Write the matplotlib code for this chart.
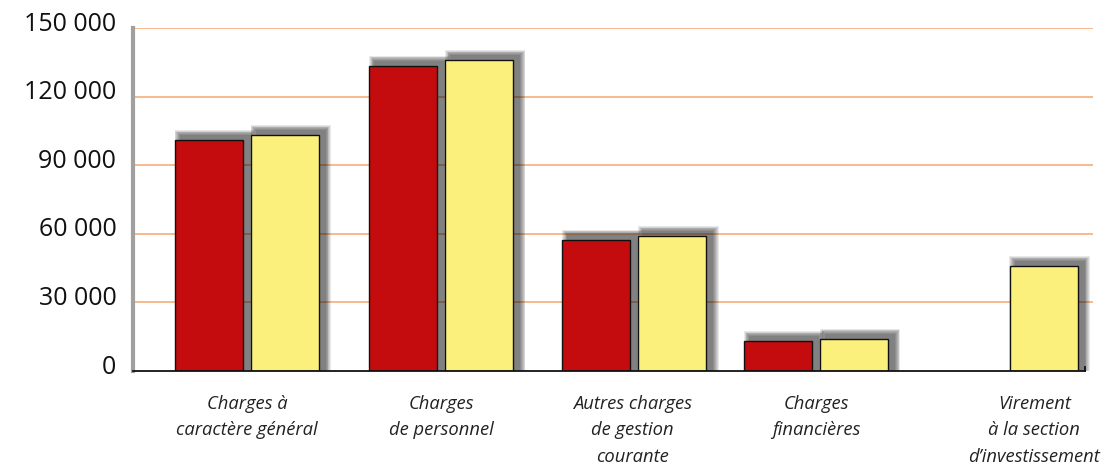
import matplotlib
matplotlib.use("Agg")
import matplotlib.pyplot as plt
import matplotlib.transforms as mtrans
import numpy as np

categories = ["Charges à\ncaractère général", "Charges\nde personnel",
              "Autres charges\nde gestion\ncourante", "Charges\nfinancières",
              "Virement\nà la section\nd\u2019investissement"]
red_values = [101000, 133400, 57300, 13100, None]
yellow_values = [103200, 136000, 59000, 14000, 45900]
yticks = [0, 30000, 60000, 90000, 120000, 150000]
ytick_labels = ["0", "30 000", "60 000", "90 000", "120 000", "150 000"]

# layout: group centre positions on the category axis
group_pos = [0.0, 1.024, 2.042, 3.0, 4.0]

RED = "#c40c0e"
YELLOW = "#fcf07c"
GRID = "#f6b585"

W, H = 1113, 467
fig = plt.figure(figsize=(W / 100, H / 100), dpi=100)
ax_l, ax_r, ax_b, ax_t = 133, 1093, 371, 28
ax = fig.add_axes([ax_l / W, 1 - ax_b / H, (ax_r - ax_l) / W, (ax_b - ax_t) / H])

xlim = (-0.60, 4.46)
ylim = (0, 150000)
ax.set_xlim(*xlim)
ax.set_ylim(*ylim)
dx = (xlim[1] - xlim[0]) / (ax_r - ax_l)   # data per px (x)
dy = (ylim[1] - ylim[0]) / (ax_b - ax_t)   # data per px (y)

x = np.array(group_pos)
bw = 68 * dx
off = 38 * dx

for t in yticks[1:]:
    ax.axhline(t, color=GRID, lw=1.3, zorder=0)

def draw_bar(xc, val, color):
    n = 7
    for k in range(n, 0, -1):
        grow = k * 0.9
        ax.bar(xc + 6 * dx, val + 4 * dy + grow * dy, width=bw + 2 * grow * dx,
               bottom=0, color="black", alpha=0.09, lw=0, zorder=1)
    ax.bar(xc, val, width=bw, color=color, edgecolor="#111111", lw=1.0, zorder=3)

for i in range(len(categories)):
    if red_values[i] is not None:
        draw_bar(x[i] - off, red_values[i], RED)
    if yellow_values[i] is not None:
        draw_bar(x[i] + off, yellow_values[i], YELLOW)

ax.axhspan(-20000, 0, color="white", zorder=2)

for s in ["top", "right"]:
    ax.spines[s].set_visible(False)
ax.spines["left"].set_color("#a0a0a0")
ax.spines["left"].set_linewidth(3)
ax.spines["bottom"].set_color("#111111")
ax.spines["bottom"].set_linewidth(1.3)
xend = xlim[0] + (1085 - ax_l) * dx
ax.spines["bottom"].set_bounds(xlim[0], xend)
ax.spines["left"].set_zorder(5)
ax.spines["bottom"].set_zorder(5)
ax.plot([xend, xend], [0, 4 * dy], color="#111111", lw=1.3, zorder=5, clip_on=False)

ax.set_yticks(yticks)
ax.set_yticklabels(ytick_labels, fontsize=18, family="Open Sans", color="#111111")
ax.tick_params(axis="y", length=0, pad=12)
for lab in ax.get_yticklabels():
    lab.set_transform(lab.get_transform() + mtrans.ScaledTranslation(0, 7 / 100, fig.dpi_scale_trans))

ax.set_xticks([])
label_x = [x[0], x[1], x[2] - 0.01, x[3], x[4] + off - 0.05]
for lx, cat in zip(label_x, categories):
    ax.text(lx, -10500, cat, ha="center", va="top", fontsize=13.2, style="italic",
            family="Open Sans", color="#222222", linespacing=1.6)

fig.savefig("out.png", dpi=100)
